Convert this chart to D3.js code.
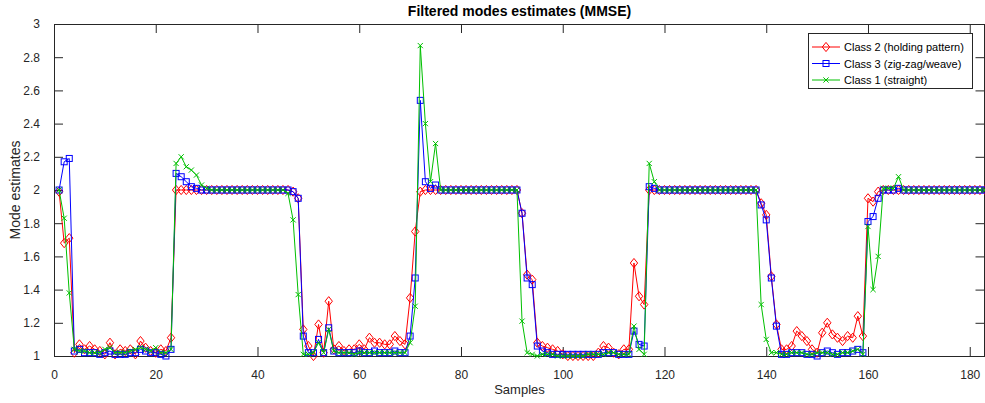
<!DOCTYPE html>
<html><head><meta charset="utf-8">
<script src="https://cdn.jsdelivr.net/npm/d3@7/dist/d3.min.js"></script>
<style>
html,body{margin:0;padding:0;background:#fff;}
svg{display:block;font-family:"Liberation Sans",Arial,sans-serif;}
</style></head><body>
<svg id="chart" width="985" height="403"></svg>
<script>
const xTicks = [0,20,40,60,80,100,120,140,160,180];
const yTicks = [1,1.2,1.4,1.6,1.8,2,2.2,2.4,2.6,2.8,3];

const class2 = [
1.99,1.68,1.71,1.02,1.07,1.04,1.06,1.04,1.03,1.01,
1.08,1.01,1.04,1.03,1.04,1.01,1.09,1.05,1.03,1.02,
1.04,1.03,1.11,2.00,2.00,2.00,2.00,2.00,2.00,2.00,
2.00,2.00,2.00,2.00,2.00,2.00,2.00,2.00,2.00,2.00,
2.00,2.00,2.00,2.00,2.00,2.00,1.99,1.95,1.16,1.06,
1.00,1.19,1.02,1.33,1.04,1.06,1.03,1.04,1.04,1.07,
1.04,1.11,1.08,1.08,1.07,1.07,1.12,1.09,1.07,1.35,
1.75,1.99,2.00,2.00,2.00,2.00,2.00,2.00,2.00,2.00,
2.00,2.00,2.00,2.00,2.00,2.00,2.00,2.00,2.00,2.00,
2.00,1.86,1.49,1.46,1.08,1.06,1.05,1.04,1.03,1.01,
1.00,1.00,1.00,1.00,1.00,1.00,1.02,1.06,1.05,1.02,
1.01,1.04,1.04,1.56,1.36,1.31,2.00,2.00,2.00,2.00,
2.00,2.00,2.00,2.00,2.00,2.00,2.00,2.00,2.00,2.00,
2.00,2.00,2.00,2.00,2.00,2.00,2.00,2.00,1.92,1.85,
1.48,1.19,1.04,1.04,1.06,1.15,1.12,1.09,1.04,1.02,
1.14,1.20,1.13,1.11,1.09,1.12,1.11,1.24,1.12,1.95,
1.93,1.99,2.00,2.00,2.00,2.00,2.00,2.00,2.00,2.00,
2.00,2.00,2.00,2.00,2.00,2.00,2.00,2.00,2.00,2.00,
2.00,2.00,2.00
];
const class3 = [
2.00,2.17,2.19,1.03,1.04,1.02,1.02,1.02,1.01,1.02,
1.03,1.01,1.01,1.01,1.02,1.02,1.04,1.03,1.02,1.02,
1.01,1.00,1.04,2.10,2.08,2.05,2.02,2.01,2.00,2.00,
2.00,2.00,2.00,2.00,2.00,2.00,2.00,2.00,2.00,2.00,
2.00,2.00,2.00,2.00,2.00,2.00,1.99,1.95,1.12,1.02,
1.02,1.10,1.02,1.17,1.03,1.02,1.02,1.02,1.02,1.03,
1.02,1.02,1.03,1.02,1.02,1.02,1.03,1.02,1.02,1.12,
1.47,2.54,2.05,2.01,2.03,2.00,2.00,2.00,2.00,2.00,
2.00,2.00,2.00,2.00,2.00,2.00,2.00,2.00,2.00,2.00,
2.00,1.86,1.47,1.43,1.06,1.03,1.02,1.01,1.01,1.01,
1.01,1.01,1.01,1.01,1.01,1.01,1.01,1.02,1.02,1.02,
1.01,1.01,1.01,1.15,1.07,1.06,2.02,2.01,2.00,2.00,
2.00,2.00,2.00,2.00,2.00,2.00,2.00,2.00,2.00,2.00,
2.00,2.00,2.00,2.00,2.00,2.00,2.00,2.00,1.91,1.82,
1.47,1.18,1.01,1.01,1.02,1.02,1.02,1.01,1.01,1.00,
1.02,1.03,1.02,1.01,1.02,1.02,1.03,1.04,1.02,1.81,
1.84,1.95,2.00,2.00,2.00,2.01,2.00,2.00,2.00,2.00,
2.00,2.00,2.00,2.00,2.00,2.00,2.00,2.00,2.00,2.00,
2.00,2.00,2.00
];
const class1 = [
2.00,1.83,1.38,1.04,1.03,1.03,1.02,1.02,1.02,1.04,
1.05,1.02,1.02,1.02,1.03,1.04,1.05,1.04,1.03,1.05,
1.02,1.02,1.04,2.16,2.20,2.14,2.12,2.09,2.03,2.01,
2.00,2.00,2.00,2.00,2.00,2.00,2.00,2.00,2.00,2.00,
2.00,2.00,2.00,2.00,2.00,1.98,1.82,1.37,1.01,1.01,
1.02,1.08,1.02,1.16,1.03,1.02,1.02,1.02,1.01,1.02,
1.02,1.02,1.02,1.02,1.02,1.02,1.02,1.02,1.02,1.08,
1.30,2.87,2.40,2.05,2.28,2.00,2.00,2.00,2.00,2.00,
2.00,2.00,2.00,2.00,2.00,2.00,2.00,2.00,2.00,2.00,
2.00,1.21,1.02,1.01,1.00,1.01,1.01,1.01,1.00,1.00,
1.00,1.00,1.00,1.00,1.01,1.01,1.01,1.01,1.02,1.02,
1.01,1.01,1.01,1.18,1.04,1.01,2.16,2.05,2.00,2.00,
2.00,2.00,2.00,2.00,2.00,2.00,2.00,2.00,2.00,2.00,
2.00,2.00,2.00,2.00,2.00,2.00,2.00,2.00,1.31,1.10,
1.02,1.02,1.01,1.01,1.02,1.02,1.02,1.01,1.01,1.02,
1.02,1.02,1.01,1.01,1.02,1.02,1.03,1.04,1.01,1.78,
1.40,1.60,2.01,2.01,2.01,2.08,2.00,2.00,2.00,2.00,
2.00,2.00,2.00,2.00,2.00,2.00,2.00,2.00,2.00,2.00,
2.00,2.00,2.00
];
const seriesNames = ["Class 2 (holding pattern)","Class 3 (zig-zag/weave)","Class 1 (straight)"];
const seriesColors = ["#ff0000","#0000ff","#00c000"];
const seriesMarkers = ["diamond","square","cross"];
const seriesData = [class2, class3, class1];

const svg = d3.select("#chart");
const L = 54, T = 24, R = 985, B = 356;
const axisColor = "#262626";
const x = d3.scaleLinear().domain([0,183]).range([L,R]);
const y = d3.scaleLinear().domain([1,3]).range([B,T]);

// title
svg.append("text").attr("x",(L+R)/2).attr("y",16).attr("text-anchor","middle")
  .attr("font-size","14px").attr("font-weight","bold").attr("fill","#000")
  .text("Filtered modes estimates (MMSE)");

const tickLen = 9;
const fmt = d => d3.format("~g")(d);
const gx = svg.append("g").attr("transform",`translate(0,${B})`)
  .call(d3.axisBottom(x).tickValues(xTicks).tickSize(-tickLen).tickPadding(tickLen+5).tickFormat(fmt));
const gxt = svg.append("g").attr("transform",`translate(0,${T})`)
  .call(d3.axisTop(x).tickValues(xTicks).tickSize(-tickLen).tickFormat(""));
const gy = svg.append("g").attr("transform",`translate(${L},0)`)
  .call(d3.axisLeft(y).tickValues(yTicks).tickSize(-tickLen).tickPadding(tickLen+5).tickFormat(fmt));
const gyr = svg.append("g").attr("transform",`translate(${R-0.5},0)`)
  .call(d3.axisRight(y).tickValues(yTicks).tickSize(-tickLen).tickFormat(""));
[gx,gxt,gy,gyr].forEach(g=>{
  g.select(".domain").remove();
  g.selectAll("line").attr("stroke",axisColor);
  g.selectAll("text").attr("fill",axisColor).attr("font-size","12px")
   .attr("font-family","'Liberation Sans',Arial,sans-serif");
});
// box
svg.append("rect").attr("x",L+0.5).attr("y",T+0.5).attr("width",R-L-1).attr("height",B-T)
  .attr("fill","none").attr("stroke",axisColor).attr("stroke-width",1);

// axis labels
svg.append("text").attr("x",(L+R)/2).attr("y",394).attr("text-anchor","middle")
  .attr("font-size","13px").attr("fill",axisColor).text("Samples");
svg.append("text").attr("transform",`translate(20,${(T+B)/2}) rotate(-90)`)
  .attr("text-anchor","middle").attr("font-size","14px").attr("fill",axisColor).text("Mode estimates");

function drawMarker(g, type, cx, cy, color){
  if(type==="diamond"){
    g.append("path").attr("d",`M${cx},${cy-4.6}L${cx+3.7},${cy}L${cx},${cy+4.6}L${cx-3.7},${cy}Z`)
      .attr("fill","none").attr("stroke",color).attr("stroke-width",1);
  } else if(type==="square"){
    g.append("rect").attr("x",cx-3).attr("y",cy-3).attr("width",6).attr("height",6)
      .attr("fill","none").attr("stroke",color).attr("stroke-width",1);
  } else {
    g.append("path").attr("d",`M${cx-2.6},${cy-2.6}L${cx+2.6},${cy+2.6}M${cx-2.6},${cy+2.6}L${cx+2.6},${cy-2.6}`)
      .attr("fill","none").attr("stroke",color).attr("stroke-width",1);
  }
}

const line = d3.line().x((d,i)=>x(i+1)).y(d=>y(d));
seriesData.forEach((data,k)=>{
  const g = svg.append("g");
  g.append("path").datum(data).attr("d",line).attr("fill","none")
    .attr("stroke",seriesColors[k]).attr("stroke-width",1);
  data.forEach((v,i)=>drawMarker(g, seriesMarkers[k], x(i+1), y(v), seriesColors[k]));
});

// legend
const lg = svg.append("g");
lg.append("rect").attr("x",808.5).attr("y",33.5).attr("width",164).attr("height",55)
  .attr("fill","#fff").attr("stroke",axisColor).attr("stroke-width",1);
seriesNames.forEach((name,k)=>{
  const yy = 47 + k*16.5;
  lg.append("line").attr("x1",812).attr("x2",840).attr("y1",yy).attr("y2",yy)
    .attr("stroke",seriesColors[k]).attr("stroke-width",1);
  drawMarker(lg, seriesMarkers[k], 826, yy, seriesColors[k]);
  lg.append("text").attr("x",844).attr("y",yy+4).attr("font-size","11px")
    .attr("fill","#000").text(name);
});
</script>
</body></html>
